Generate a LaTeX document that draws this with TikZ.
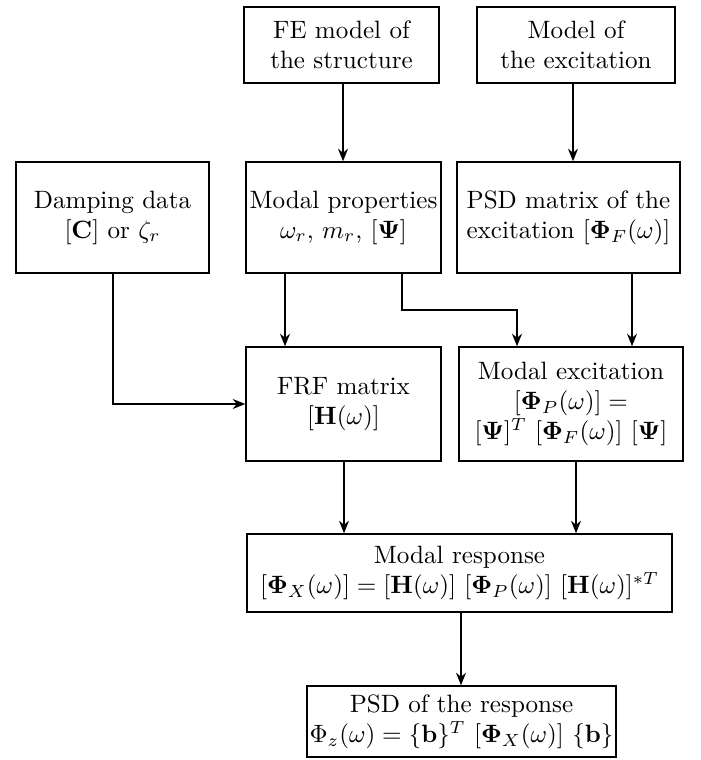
\documentclass[tikz,border=0pt]{standalone}
\usepackage{amsmath}
\usepackage{bm}
\usetikzlibrary{arrows.meta}

\tikzset{
  blk/.style 2 args={draw, line width=0.6pt, inner sep=0pt, align=center,
    minimum width=#1*0.014cm, minimum height=#2*0.014cm},
  arr/.style={line width=0.6pt, -{Stealth[length=5pt,width=4pt]}},
  ln/.style={line width=0.6pt}
}

\begin{document}
\begin{tikzpicture}[x=0.014cm, y=-0.014cm]
  \useasboundingbox (0,0) rectangle (700,760);

  % top row
  \node[blk={195}{76}] (fe)  at (341.5,45) {FE model of\\the structure};
  \node[blk={198}{76}] (exc) at (576,45)   {Model of\\the excitation};

  % second row
  \node[blk={193}{111}] (damp) at (112.5,217.5) {Damping data\\$[\mathbf{C}]$ or $\zeta_r$};
  \node[blk={195}{111}] (mp)   at (343.5,217.5) {Modal properties\\$\omega_r$, $m_r$, $[\bm{\Psi}]$};
  \node[blk={223}{111}] (psd)  at (568.5,217.5) {PSD matrix of the\\excitation $[\bm{\Phi}_F(\omega)]$};

  % third row
  \node[blk={195}{114}] (frf) at (343.5,404) {FRF matrix\\$[\mathbf{H}(\omega)]$};
  \node[blk={224}{114}] (mex) at (571,404)
    {Modal excitation\\$[\bm{\Phi}_P(\omega)] =$\\$[\bm{\Psi}]^T\ [\bm{\Phi}_F(\omega)]\ [\bm{\Psi}]$};

  % fourth row
  \node[blk={425}{78}] (mr) at (459.5,573)
    {Modal response\\$[\bm{\Phi}_X(\omega)] = [\mathbf{H}(\omega)]\ [\bm{\Phi}_P(\omega)]\ [\mathbf{H}(\omega)]^{*T}$};

  % output
  \node[blk={309}{71}] (out) at (461.5,721.5)
    {PSD of the response\\$\Phi_z(\omega) = \{\mathbf{b}\}^T\ [\bm{\Phi}_X(\omega)]\ \{\mathbf{b}\}$};

  % connector columns
  \coordinate (xa) at (343,0);
  \coordinate (xb) at (573,0);
  \coordinate (xd) at (113,0);
  \coordinate (xm1) at (285,0);
  \coordinate (xm2) at (402,0);
  \coordinate (xe) at (517,0);
  \coordinate (xp) at (632,0);
  \coordinate (xf) at (344,0);
  \coordinate (xg) at (576,0);
  \coordinate (xo) at (461,0);
  \coordinate (yb) at (0,310);

  \draw[arr] (fe.south -| xa) -- (mp.north -| xa);
  \draw[arr] (exc.south -| xb) -- (psd.north -| xb);
  \draw[arr] (damp.south -| xd) |- (frf.west);
  \draw[arr] (mp.south -| xm1) -- (frf.north -| xm1);
  \draw[arr] (mp.south -| xm2) |- (yb -| xe) -- (mex.north -| xe);
  \draw[arr] (psd.south -| xp) -- (mex.north -| xp);
  \draw[arr] (frf.south -| xf) -- (mr.north -| xf);
  \draw[arr] (mex.south -| xg) -- (mr.north -| xg);
  \draw[arr] (mr.south -| xo) -- (out.north -| xo);
\end{tikzpicture}
\end{document}
